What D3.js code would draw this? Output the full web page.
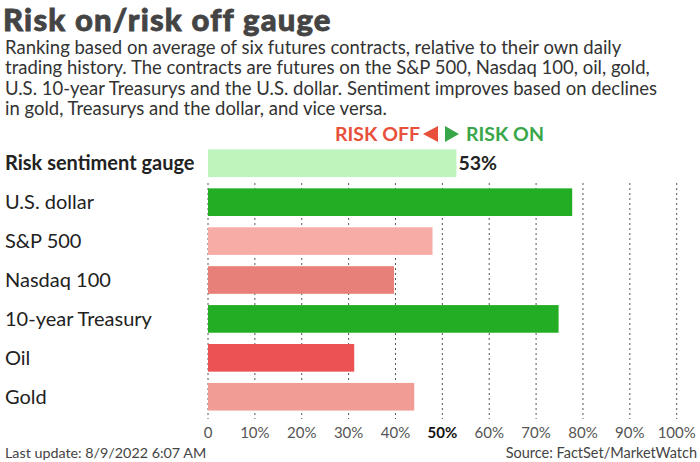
<!DOCTYPE html>
<html>
<head>
<meta charset="utf-8">
<script src="https://cdn.jsdelivr.net/npm/d3@7"></script>
<style>
  body { margin: 0; background: #fff; }
  svg { font-family: Lato, "Open Sans", sans-serif; }
</style>
</head>
<body>
<div id="chart"></div>
<script>
// chart data
const categories = ["Risk sentiment gauge", "U.S. dollar", "S&P 500", "Nasdaq 100", "10-year Treasury", "Oil", "Gold"];
const values = [53, 77.7, 47.9, 39.7, 74.8, 31.2, 44];
const barColors = ["#bdf5bd", "#22ad24", "#f7aca6", "#e8807a", "#22ad24", "#ec5253", "#f29c96"];
const tickValues = [0, 10, 20, 30, 40, 50, 60, 70, 80, 90, 100];

const subtitle = [
    "Ranking based on average of six futures contracts, relative to their own daily",
    "trading history. The contracts are futures on the S&P 500, Nasdaq 100, oil, gold,",
    "U.S. 10-year Treasurys and the U.S. dollar. Sentiment improves based on declines",
    "in gold, Treasurys and the dollar, and vice versa."
];

const width = 700, height = 462;

let svg = d3.select("#chart").append("svg")
    .attr("width", width)
    .attr("height", height);

// title + subtitle (thin stroke to mimic the heavier weight)
svg.append("text")
    .attr("x", 3)
    .attr("y", 31)
    .attr("font-size", 31)
    .attr("font-weight", 900)
    .attr("letter-spacing", 1.2)
    .attr("fill", "#444")
    .attr("stroke", "#444")
    .attr("stroke-width", 0.8)
    .text("Risk on/risk off gauge");

svg.selectAll(".subtitle")
    .data(subtitle)
    .enter()
    .append("text")
    .attr("class", "subtitle")
    .attr("x", 5)
    .attr("y", (d, i) => 54 + i * 20.3)
    .attr("font-size", 18.5)
    .attr("fill", "#333")
    .text(d => d);

// scales
let x = d3.scaleLinear()
    .domain([0, 100])
    .range([208, 676.7]);

let y = d3.scaleBand()
    .domain(categories)
    .range([144, 416])
    .paddingInner(0.29)
    .paddingOuter(0.14);

// dotted grid lines
svg.selectAll(".grid")
    .data(tickValues)
    .enter()
    .append("line")
    .attr("class", "grid")
    .attr("x1", d => x(d))
    .attr("x2", d => x(d))
    .attr("y1", 183)
    .attr("y2", 419)
    .attr("stroke", "#555")
    .attr("stroke-width", 1)
    .attr("stroke-dasharray", "2,3");

// bars
svg.selectAll(".bar")
    .data(categories)
    .enter()
    .append("rect")
    .attr("class", "bar")
    .attr("x", x(0))
    .attr("y", d => y(d))
    .attr("height", y.bandwidth())
    .attr("width", (d, i) => x(values[i]) - x(0))
    .attr("fill", (d, i) => barColors[i]);

// category labels
svg.selectAll(".cat-label")
    .data(categories)
    .enter()
    .append("text")
    .attr("class", "cat-label")
    .attr("x", 5)
    .attr("y", d => y(d) + y.bandwidth() / 2 + 7)
    .attr("font-size", 20)
    .attr("font-weight", (d, i) => i == 0 ? 700 : 400)
    .attr("fill", "#222")
    .text(d => d);

// gauge value label
svg.append("text")
    .attr("x", x(values[0]) + 2)
    .attr("y", y(categories[0]) + y.bandwidth() / 2 + 7)
    .attr("font-size", 19.5)
    .attr("font-weight", 700)
    .attr("fill", "#222")
    .text(values[0] + "%");

// risk off / risk on legend
let legend = svg.append("g")
    .attr("font-size", 19.5)
    .attr("font-weight", 700);

legend.append("text")
    .attr("x", 420)
    .attr("y", 141)
    .attr("text-anchor", "end")
    .attr("fill", "#e8503c")
    .text("RISK OFF");

legend.append("path")
    .attr("d", "M438,126 L423,134 L438,142 Z")
    .attr("fill", "#e8503c");

legend.append("path")
    .attr("d", "M445,126 L459,134 L445,142 Z")
    .attr("fill", "#3aa64a");

legend.append("text")
    .attr("x", 466)
    .attr("y", 141)
    .attr("fill", "#3aa64a")
    .text("RISK ON");

// x axis tick labels
svg.selectAll(".tick-label")
    .data(tickValues)
    .enter()
    .append("text")
    .attr("class", "tick-label")
    .attr("x", d => x(d))
    .attr("y", 438)
    .attr("text-anchor", "middle")
    .attr("font-size", 15)
    .attr("font-weight", d => d == 50 ? 700 : 400)
    .attr("fill", d => d == 50 ? "#111" : "#555")
    .text(d => d == 0 ? "0" : d + "%");

// footer
svg.append("text")
    .attr("x", 5)
    .attr("y", 458)
    .attr("font-size", 14.3)
    .attr("fill", "#444")
    .text("Last update: 8/9/2022 6:07 AM");

svg.append("text")
    .attr("x", 697)
    .attr("y", 458)
    .attr("text-anchor", "end")
    .attr("font-size", 14.5)
    .attr("fill", "#444")
    .text("Source: FactSet/MarketWatch");
</script>
</body>
</html>
